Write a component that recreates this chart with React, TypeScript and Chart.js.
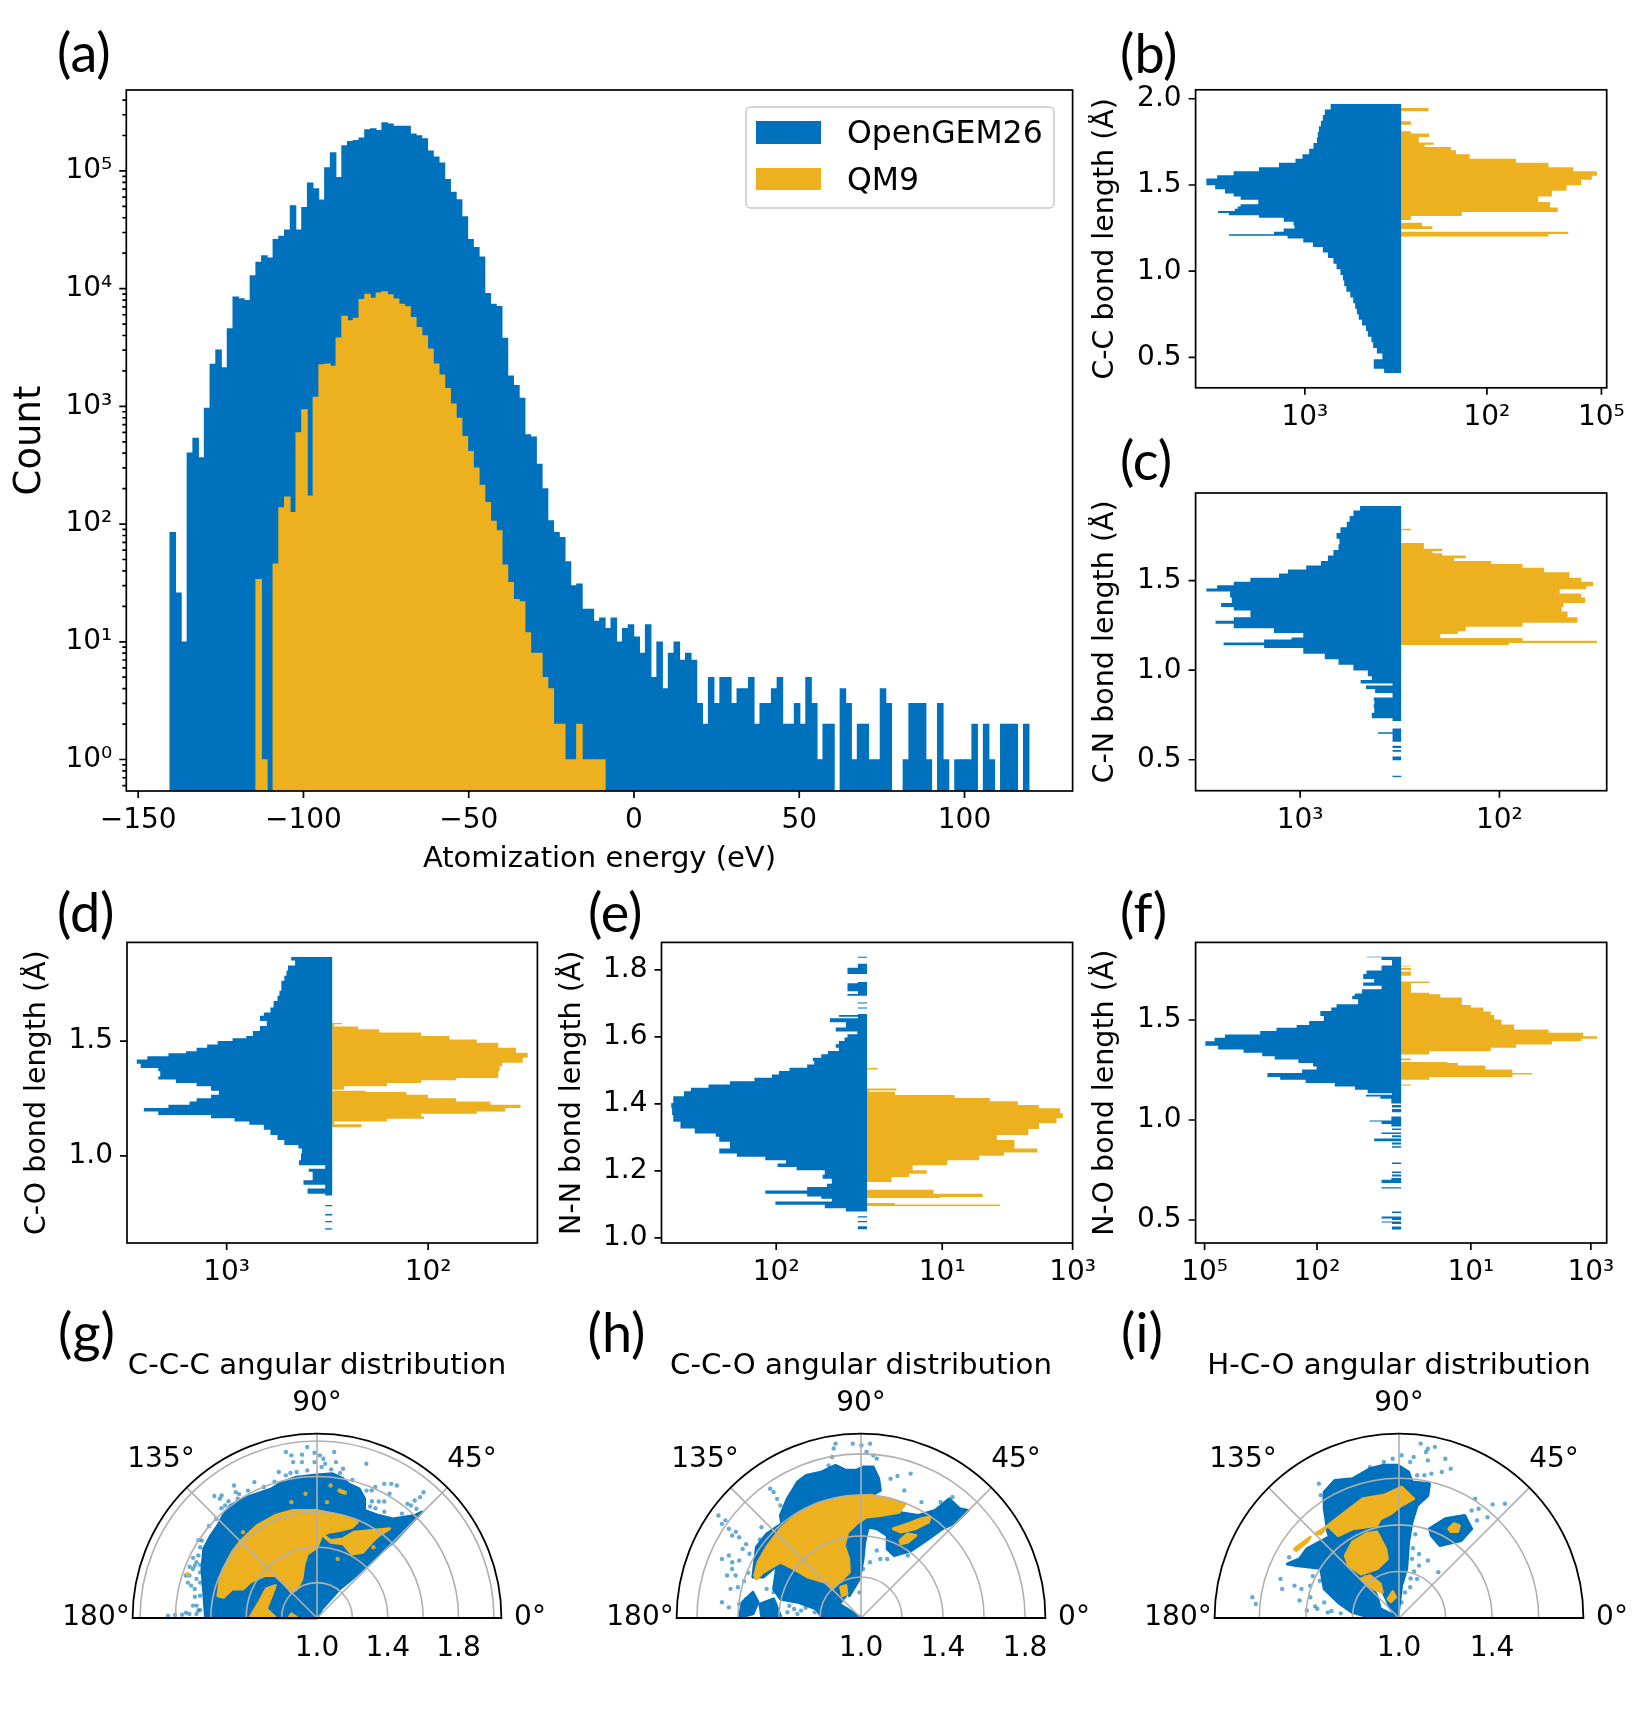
import React, { useEffect, useRef } from "react";
import { Chart, registerables } from "chart.js";

Chart.register(...registerables);

const BLUE = "#0072BD";
const YELLOW = "#EDB120";
const DOT_BLUE = "rgba(0, 114, 189, 0.6)";
const DOT_YELLOW = "rgba(237, 177, 32, 0.85)";
const FONT = "'DejaVu Sans'";

// (a) atomization energy histogram, 150 bins
const firstBin = -139.55;
const binWidth = 1.733;
const openGemCounts = [
  85, 26, 10, 403, 537, 367, 968, 2290, 3020, 2130, 4570, 8510, 8230, 7940, 12900, 16800, 19100, 18300, 26300, 27900,
  31600, 50700, 31600, 49000, 79400, 70800, 56900, 107000, 143000, 88100, 164000, 178000, 182000, 191000, 224000,
  229000, 221000, 257000, 251000, 240000, 240000, 240000, 207000, 200000, 188000, 148000, 132000, 117000, 85000, 66000,
  57000, 41000, 26300, 22400, 18600, 9120, 7410, 7080, 3800, 1820, 1510, 1175, 575, 550, 324, 200, 107, 85, 77, 48, 30,
  31, 19, 19, 15, 16, 13, 16, 10, 13, 14, 11, 8, 14, 5, 10, 4, 8, 10, 7, 8, 7, 3, 2, 5, 3, 5, 5, 3, 4, 4, 5, 2, 3, 3,
  4, 5, 2, 2, 3, 2, 5, 3, 1, 2, 2, 0, 4, 3, 1, 2, 2, 1, 1, 4, 3, 0, 0, 1, 3, 3, 3, 1, 0, 3, 1, 0, 1, 1, 1, 2, 0, 2, 1,
  0, 2, 2, 2, 0, 2,
];
const qm9Counts = [
  0, 0, 0, 0, 0, 0, 0, 0, 0, 0, 0, 0, 0, 0, 0, 34, 1, 0, 46, 138, 170, 126, 600, 940, 174, 1200, 2260, 2300, 2200, 3830,
  5860, 5350, 5630, 8100, 9000, 8300, 9230, 9450, 8900, 8200, 7400, 7050, 5700, 4700, 3990, 3080, 2300, 1850, 1420,
  1050, 795, 556, 415, 300, 214, 153, 106, 88, 45, 32, 23, 22, 12, 8, 8, 5, 4, 2, 2, 1, 1, 2, 1, 1, 1, 1,
];
const energyTicks = [-150, -100, -50, 0, 50, 100];

// Bond length panels: [bond length, width relative to the side's peak]
const ccBlue = [
  [1.971, 0], [1.938, 0.36], [1.906, 0.39], [1.873, 0.4], [1.841, 0.41], [1.808, 0.42], [1.775, 0.426], [1.743, 0.43],
  [1.71, 0.448], [1.678, 0.47], [1.652, 0.504], [1.629, 0.54], [1.603, 0.624], [1.58, 0.726], [1.557, 0.856],
  [1.538, 0.94], [1.515, 0.995], [1.499, 0.995], [1.476, 0.95], [1.45, 0.9], [1.434, 0.856], [1.414, 0.82],
  [1.401, 0.73], [1.388, 0.73], [1.375, 0.82], [1.362, 0.835], [1.349, 0.85], [1.337, 0.935], [1.325, 0.88],
  [1.31, 0.726], [1.287, 0.6], [1.265, 0.55], [1.248, 0.545], [1.229, 0.6], [1.215, 0.65], [1.205, 0.88], [1.19, 0.58],
  [1.167, 0.5], [1.141, 0.45], [1.108, 0.4], [1.076, 0.374], [1.043, 0.346], [1.011, 0.33], [0.978, 0.31],
  [0.946, 0.297], [0.913, 0.291], [0.881, 0.28], [0.848, 0.26], [0.815, 0.245], [0.783, 0.235], [0.75, 0.226],
  [0.718, 0.217], [0.685, 0.2], [0.653, 0.18], [0.62, 0.17], [0.588, 0.152], [0.555, 0.143], [0.523, 0.124],
  [0.49, 0.096], [0.458, 0.14], [0.435, 0.14], [0.409, 0.087],
];
const ccYellow = [
  [1.948, 0], [1.928, 0.14], [1.87, 0], [1.85, 0.05], [1.811, 0], [1.798, 0.05], [1.779, 0.144], [1.759, 0.09],
  [1.746, 0.09], [1.733, 0.166], [1.72, 0.12], [1.701, 0.255], [1.678, 0.28], [1.652, 0.35], [1.629, 0.587],
  [1.603, 0.753], [1.58, 0.88], [1.554, 1.0], [1.531, 0.974], [1.499, 0.92], [1.466, 0.845], [1.434, 0.77],
  [1.401, 0.7], [1.369, 0.76], [1.343, 0.8], [1.32, 0.31], [1.297, 0.05], [1.281, 0], [1.261, 0.107], [1.245, 0.16],
  [1.229, 0], [1.216, 0.854], [1.2, 0.753],
];
const cnBlue = [
  [1.918, 0], [1.892, 0.21], [1.861, 0.244], [1.829, 0.263], [1.798, 0.278], [1.766, 0.31], [1.735, 0.33], [1.704, 0.315],
  [1.672, 0.32], [1.641, 0.346], [1.61, 0.374], [1.585, 0.41], [1.563, 0.485], [1.541, 0.578], [1.516, 0.624],
  [1.494, 0.77], [1.475, 0.855], [1.456, 0.94], [1.44, 0.995], [1.406, 0.874], [1.375, 0.865], [1.353, 0.92],
  [1.334, 0.855], [1.312, 0.77], [1.296, 0.77], [1.277, 0.855], [1.259, 0.948], [1.234, 0.855], [1.208, 0.65],
  [1.183, 0.5], [1.171, 0.56], [1.155, 0.7], [1.139, 0.907], [1.124, 0.7], [1.092, 0.5], [1.061, 0.39], [1.03, 0.32],
  [0.998, 0.244], [0.967, 0.17], [0.945, 0.15], [0.926, 0.207], [0.914, 0.044], [0.895, 0.18], [0.873, 0.133],
  [0.848, 0.044], [0.832, 0.14], [0.81, 0.137], [0.788, 0.14], [0.763, 0.137], [0.732, 0.15], [0.716, 0.044],
  [0.675, 0], [0.654, 0.044], [0.645, 0.118], [0.638, 0.044], [0.6, 0.044], [0.578, 0], [0.565, 0.044], [0.555, 0],
  [0.545, 0.044], [0.518, 0], [0.497, 0.044], [0.41, 0], [0.402, 0.044],
];
const cnYellow = [
  [1.792, 0], [1.782, 0.05], [1.71, 0], [1.697, 0.116], [1.679, 0.116], [1.666, 0.21], [1.654, 0.16], [1.641, 0.21],
  [1.625, 0.33], [1.61, 0.27], [1.594, 0.46], [1.572, 0.62], [1.547, 0.73], [1.516, 0.86], [1.494, 0.92], [1.469, 0.98],
  [1.453, 0.945], [1.428, 0.81], [1.406, 0.92], [1.375, 0.94], [1.353, 0.83], [1.328, 0.82], [1.296, 0.85],
  [1.265, 0.9], [1.243, 0.62], [1.218, 0.33], [1.202, 0.29], [1.18, 0.2], [1.165, 0.62], [1.152, 1.0], [1.139, 0.55],
];
const coBlue = [
  [1.868, 0], [1.851, 0.21], [1.829, 0.19], [1.807, 0.226], [1.785, 0.234], [1.763, 0.245], [1.741, 0.26], [1.719, 0.26],
  [1.697, 0.27], [1.675, 0.28], [1.646, 0.3], [1.624, 0.316], [1.61, 0.35], [1.588, 0.37], [1.566, 0.335], [1.544, 0.37],
  [1.522, 0.406], [1.512, 0.44], [1.5, 0.51], [1.485, 0.586], [1.471, 0.64], [1.456, 0.694], [1.447, 0.748],
  [1.434, 0.838], [1.42, 0.946], [1.401, 1.0], [1.383, 0.98], [1.368, 0.89], [1.346, 0.88], [1.332, 0.89], [1.317, 0.8],
  [1.303, 0.694], [1.284, 0.62], [1.266, 0.58], [1.251, 0.62], [1.237, 0.694], [1.222, 0.73], [1.208, 0.838],
  [1.193, 0.964], [1.178, 0.89], [1.164, 0.62], [1.149, 0.5], [1.135, 0.424], [1.113, 0.35], [1.091, 0.316],
  [1.069, 0.28], [1.047, 0.245], [1.032, 0.173], [1.01, 0.155], [0.981, 0.16], [0.959, 0.17], [0.944, 0.036], [0.93, 0.12],
  [0.908, 0.1], [0.893, 0.1], [0.874, 0.147], [0.857, 0.036], [0.835, 0.126], [0.827, 0.036], [0.786, 0], [0.78, 0.036],
  [0.746, 0], [0.74, 0.036], [0.716, 0], [0.71, 0.036], [0.684, 0], [0.678, 0.036],
];
const coYellow = [
  [1.58, 0], [1.573, 0.05], [1.564, 0.01], [1.551, 0.133], [1.537, 0.24], [1.522, 0.455], [1.507, 0.6], [1.493, 0.74],
  [1.471, 0.85], [1.449, 0.94], [1.427, 1.0], [1.405, 0.975], [1.39, 0.87], [1.368, 0.857], [1.339, 0.85],
  [1.329, 0.634], [1.317, 0.455], [1.303, 0.28], [1.288, 0.06], [1.284, 0], [1.278, 0.17], [1.266, 0.38], [1.251, 0.49],
  [1.237, 0.634], [1.222, 0.81], [1.208, 0.964], [1.193, 0.885], [1.183, 0.74], [1.171, 0.455], [1.161, 0.47],
  [1.149, 0.28], [1.137, 0.01], [1.13, 0.15], [1.123, 0.15],
];
const nnBlue = [
  [1.84, 0], [1.836, 0.047], [1.818, 0], [1.814, 0.047], [1.806, 0.047], [1.796, 0.1], [1.788, 0.1], [1.784, 0],
  [1.764, 0], [1.76, 0.047], [1.746, 0.1], [1.736, 0.1], [1.728, 0.047], [1.723, 0.1], [1.703, 0], [1.7, 0.047], [1.688, 0],
  [1.685, 0.047], [1.668, 0], [1.665, 0.047], [1.66, 0.144], [1.656, 0.047], [1.644, 0.19], [1.628, 0.108], [1.616, 0.16],
  [1.608, 0.05], [1.598, 0.1], [1.588, 0.115], [1.578, 0.144], [1.568, 0.16], [1.558, 0.144], [1.548, 0.2], [1.538, 0.234],
  [1.528, 0.277], [1.518, 0.27], [1.508, 0.306], [1.498, 0.396], [1.488, 0.45], [1.478, 0.486], [1.468, 0.575], [1.458, 0.7],
  [1.448, 0.81], [1.438, 0.9], [1.423, 0.935], [1.403, 0.99], [1.387, 1.0], [1.367, 0.996], [1.347, 0.99], [1.327, 0.953],
  [1.312, 0.88], [1.302, 0.773], [1.287, 0.755], [1.267, 0.7], [1.252, 0.755], [1.242, 0.665], [1.232, 0.52], [1.222, 0.414],
  [1.212, 0.457], [1.202, 0.36], [1.189, 0.216], [1.177, 0.227], [1.162, 0.18], [1.152, 0.205], [1.142, 0.306], [1.132, 0.52],
  [1.124, 0.306], [1.117, 0.234], [1.109, 0.18], [1.099, 0.468], [1.089, 0.216], [1.082, 0.108], [1.079, 0.108], [1.065, 0],
  [1.061, 0.047], [1.051, 0], [1.047, 0.047], [1.035, 0], [1.025, 0.047],
];
const nnYellow = [
  [1.508, 0], [1.503, 0.054], [1.446, 0], [1.44, 0.15], [1.436, 0.01], [1.427, 0.143], [1.418, 0.448], [1.408, 0.627],
  [1.397, 0.77], [1.387, 0.878], [1.372, 0.986], [1.357, 1.0], [1.342, 0.968], [1.325, 0.878], [1.307, 0.824],
  [1.292, 0.663], [1.267, 0.753], [1.255, 0.87], [1.245, 0.7], [1.232, 0.573], [1.217, 0.41], [1.202, 0.233],
  [1.192, 0.305], [1.182, 0.215], [1.17, 0.125], [1.167, 0.125], [1.144, 0], [1.132, 0.34], [1.122, 0.59], [1.119, 0.376],
  [1.104, 0], [1.1, 0.143], [1.095, 0.68],
];
const noBlue = [
  [1.817, 0], [1.814, 0.175], [1.8, 0.1], [1.789, 0.047], [1.772, 0.047], [1.76, 0.1], [1.747, 0.1], [1.73, 0.177],
  [1.705, 0.194], [1.688, 0.138], [1.671, 0.194], [1.654, 0.1], [1.633, 0.2], [1.621, 0.237], [1.604, 0.25], [1.579, 0.22],
  [1.562, 0.33], [1.545, 0.357], [1.52, 0.413], [1.495, 0.395], [1.475, 0.47], [1.461, 0.534], [1.445, 0.637], [1.428, 0.72],
  [1.411, 0.9], [1.394, 0.953], [1.371, 1.0], [1.352, 0.935], [1.336, 0.805], [1.319, 0.71], [1.302, 0.646], [1.285, 0.525],
  [1.268, 0.45], [1.252, 0.432], [1.235, 0.506], [1.215, 0.683], [1.201, 0.618], [1.185, 0.488], [1.168, 0.339],
  [1.151, 0.236], [1.134, 0.171], [1.126, 0.047], [1.117, 0.18], [1.106, 0.106], [1.092, 0.05], [1.082, 0.05], [1.075, 0],
  [1.062, 0.047], [1.055, 0], [1.039, 0.047], [1.018, 0], [0.998, 0.05], [0.992, 0.162], [0.98, 0.1], [0.968, 0.05],
  [0.958, 0], [0.95, 0.047], [0.938, 0], [0.93, 0.1], [0.924, 0], [0.914, 0.047], [0.908, 0], [0.894, 0.138], [0.888, 0],
  [0.878, 0.047], [0.869, 0], [0.861, 0.047], [0.854, 0], [0.787, 0], [0.78, 0.047], [0.743, 0], [0.735, 0.047], [0.727, 0],
  [0.718, 0.047], [0.71, 0], [0.701, 0.05], [0.685, 0.1], [0.678, 0], [0.664, 0], [0.658, 0.1], [0.651, 0], [0.542, 0],
  [0.535, 0.047], [0.517, 0], [0.507, 0.1], [0.5, 0.047], [0.493, 0], [0.487, 0.1], [0.48, 0.047], [0.468, 0], [0.451, 0.047],
];
const noYellow = [
  [1.773, 0], [1.767, 0.05], [1.76, 0], [1.75, 0.05], [1.743, 0], [1.721, 0.05], [1.693, 0], [1.685, 0.144], [1.666, 0.05],
  [1.646, 0.05], [1.636, 0.05], [1.629, 0.144], [1.612, 0.2], [1.592, 0.31], [1.575, 0.31], [1.562, 0.356], [1.542, 0.42],
  [1.525, 0.458], [1.503, 0.476], [1.478, 0.513], [1.453, 0.577], [1.436, 0.753], [1.419, 0.93], [1.406, 1.0], [1.394, 0.92],
  [1.378, 0.77], [1.361, 0.587], [1.344, 0.458], [1.327, 0.144], [1.307, 0], [1.299, 0.05], [1.29, 0], [1.285, 0.236],
  [1.273, 0.29], [1.252, 0.43], [1.235, 0.568], [1.227, 0.67], [1.215, 0.568], [1.201, 0.144], [1.178, 0], [1.171, 0.05],
];

// Angular panels: bond coordinates relative to r = 1.0, x = (r-1)cos(theta), y = (r-1)sin(theta)
const cccBlueArea = [
  [-0.63, 0.004], [-0.64, 0.145], [-0.65, 0.277], [-0.64, 0.39], [-0.6, 0.466], [-0.56, 0.523], [-0.53, 0.579], [-0.489, 0.636],
  [-0.418, 0.674], [-0.337, 0.702], [-0.257, 0.73], [-0.196, 0.768], [-0.115, 0.796], [-0.014, 0.806], [0.087, 0.815],
  [0.147, 0.787], [0.178, 0.758], [0.238, 0.73], [0.269, 0.674], [0.269, 0.608], [0.349, 0.579], [0.43, 0.56], [0.552, 0.579],
  [0.592, 0.598], [0.511, 0.513], [0.43, 0.428], [0.349, 0.362], [0.269, 0.287], [0.198, 0.221], [0.127, 0.164], [0.077, 0.108],
  [0.026, 0.051], [0, 0],
];
const cccYellowAreas = [
  [
    [-0.56, 0.126], [-0.549, 0.202], [-0.529, 0.277], [-0.479, 0.372], [-0.428, 0.438], [-0.337, 0.523], [-0.236, 0.579],
    [-0.135, 0.608], [-0.004, 0.608], [0.087, 0.589], [0.188, 0.56], [0.228, 0.542], [0.198, 0.513], [0.127, 0.494],
    [0.067, 0.485], [0.026, 0.466], [0, 0.4], [-0.055, 0.362], [-0.075, 0.296], [-0.085, 0.221], [-0.115, 0.164],
    [-0.145, 0.145], [-0.186, 0.202], [-0.236, 0.24], [-0.297, 0.24], [-0.378, 0.202], [-0.418, 0.164], [-0.479, 0.164],
    [-0.529, 0.117],
  ],
  [
    [0.036, 0.466], [0.077, 0.438], [0.147, 0.447], [0.208, 0.485], [0.309, 0.494], [0.41, 0.504], [0.349, 0.466],
    [0.309, 0.428], [0.259, 0.372], [0.198, 0.362], [0.147, 0.419], [0.077, 0.428],
  ],
  [[-0.287, 0.164], [-0.236, 0.183], [-0.257, 0.126], [-0.287, 0.051], [-0.236, 0.004], [-0.378, 0.004], [-0.327, 0.089]],
  [[-0.145, 0.023], [-0.115, 0.004], [-0.156, 0.004]],
];
const cccYellowDots = [
  [0.077, 0.749], [0.127, 0.721], [0.158, 0.708], [-0.065, 0.702], [0.057, 0.655], [0.319, 0.4], [0.117, 0.334], [-0.731, 0.249],
  [-0.145, 0.655], [-0.418, 0.485], [0.137, 0.715], [0.147, 0.712],
];
const cccBlueDots = [
  [-0.176, 0.938], [-0.145, 0.919], [-0.085, 0.923], [-0.055, 0.966], [-0.014, 0.934], [0.016, 0.919], [0.036, 0.9], [0.097, 0.938],
  [-0.135, 0.881], [-0.085, 0.881], [-0.014, 0.881], [0.046, 0.872], [0.107, 0.881], [0.147, 0.843], [0.279, 0.872], [-0.216, 0.825],
  [-0.176, 0.806], [-0.115, 0.825], [-0.055, 0.834], [0.026, 0.853], [-0.469, 0.749], [-0.459, 0.711], [-0.448, 0.674], [-0.354, 0.768],
  [-0.58, 0.689], [-0.549, 0.674], [-0.519, 0.636], [-0.539, 0.692], [0.42, 0.758], [0.38, 0.758], [0.451, 0.749], [0.329, 0.74],
  [0.309, 0.721], [0.41, 0.702], [0.349, 0.658], [0.38, 0.658], [0.511, 0.645], [0.602, 0.711], [0.582, 0.683], [0.552, 0.664],
  [0.562, 0.617], [0.531, 0.636], [-0.651, 0.438], [-0.63, 0.391], [-0.671, 0.353], [-0.691, 0.296], [-0.701, 0.277], [-0.661, 0.258],
  [-0.721, 0.24], [-0.681, 0.221], [-0.711, 0.183], [-0.741, 0.24], [-0.691, 0.164], [-0.661, 0.126], [-0.701, 0.07], [-0.64, 0.183],
  [-0.681, 0.315], [-0.62, 0.334], [-0.6, 0.428], [-0.58, 0.457], [-0.842, 0.013], [-0.802, 0.017], [-0.762, 0.019], [-0.721, 0.023],
  [-0.671, 0.042], [-0.681, 0.023], [0.248, 0.296], [0.208, 0.277], [0.168, 0.258], [0.127, 0.202], [0.087, 0.155], [0.046, 0.108],
  [0.036, 0.07], [0.329, 0.391], [-0.66, 0.4], [-0.67, 0.44], [-0.7, 0.34], [-0.72, 0.29], [-0.73, 0.2], [-0.69, 0.12],
  [-0.66, 0.2], [-0.66, 0.3], [-0.68, 0.07], [-0.66, 0.045], [-0.74, 0.03], [-0.61, 0.52], [-0.57, 0.56], [-0.54, 0.62],
  [-0.5, 0.66], [-0.44, 0.7], [-0.39, 0.72], [-0.3, 0.74], [-0.24, 0.77], [-0.15, 0.82], [0.08, 0.84], [0.13, 0.82],
  [0.2, 0.78], [0.28, 0.72], [0.31, 0.66], [0.33, 0.62], [0.48, 0.59], [0.38, 0.6], [0.3, 0.63],
];

const ccoBlueAreas = [
  [
    [-0.393, 0.5], [-0.359, 0.581], [-0.309, 0.663], [-0.267, 0.695], [-0.191, 0.712], [-0.124, 0.744], [-0.074, 0.72], [-0.023, 0.72],
    [0.01, 0.736], [0.06, 0.736], [0.086, 0.679], [0.094, 0.622], [-0.007, 0.565], [-0.191, 0.5], [-0.292, 0.45], [-0.376, 0.4],
  ],
  [
    [-0.074, 0.402], [0.01, 0.484], [0.077, 0.513], [0.178, 0.516], [0.279, 0.5], [0.362, 0.524], [0.43, 0.581], [0.48, 0.533],
    [0.522, 0.524], [0.463, 0.467], [0.396, 0.435], [0.329, 0.386], [0.245, 0.329], [0.161, 0.305], [0.128, 0.337], [0.128, 0.402],
    [0.077, 0.435], [0.035, 0.443], [0.018, 0.37], [0.01, 0.288], [-0.007, 0.191], [-0.032, 0.15], [-0.057, 0.109], [-0.124, 0.191],
    [-0.091, 0.305],
  ],
  [
    [-0.409, 0.26], [-0.292, 0.3], [-0.124, 0.28], [-0.04, 0.174], [-0.074, 0.109], [-0.107, 0.068], [-0.003, 0.003], [-0.191, 0.003],
    [-0.216, 0.044], [-0.309, 0.077], [-0.393, 0.093], [-0.426, 0.142],
  ],
  [[-0.51, 0.345], [-0.46, 0.41], [-0.376, 0.467], [-0.3, 0.4], [-0.393, 0.27], [-0.477, 0.2], [-0.527, 0.2]],
  [[-0.594, 0.003], [-0.577, 0.077], [-0.527, 0.125], [-0.502, 0.077], [-0.527, 0.02]],
  [[-0.493, 0.068], [-0.426, 0.093], [-0.393, 0.011], [-0.485, 0.011]],
];
const ccoYellowAreas = [
  [
    [-0.518, 0.207], [-0.502, 0.272], [-0.46, 0.345], [-0.393, 0.435], [-0.309, 0.508], [-0.191, 0.565], [-0.074, 0.59], [0.044, 0.598],
    [0.144, 0.581], [0.215, 0.557], [0.186, 0.516], [0.094, 0.5], [0.027, 0.492], [-0.023, 0.459], [-0.065, 0.419], [-0.082, 0.353],
    [-0.06, 0.288], [-0.057, 0.223], [-0.107, 0.174], [-0.141, 0.142], [-0.174, 0.174], [-0.258, 0.199], [-0.326, 0.239], [-0.393, 0.272],
    [-0.477, 0.223], [-0.51, 0.191],
  ],
  [[0.158, 0.435], [0.228, 0.459], [0.295, 0.484], [0.337, 0.492], [0.329, 0.467], [0.262, 0.435], [0.195, 0.419]],
  [[0.191, 0.378], [0.228, 0.41], [0.267, 0.402], [0.228, 0.37], [0.195, 0.362]],
  [[-0.099, 0.15], [-0.074, 0.158], [-0.069, 0.117], [-0.091, 0.109]],
];
const ccoBlueDots = [
  [-0.124, 0.85], [-0.133, 0.826], [-0.141, 0.785], [-0.04, 0.85], [0.002, 0.842], [0.044, 0.85], [0.077, 0.777], [0.027, 0.809],
  [0.06, 0.793], [-0.158, 0.744], [0.144, 0.679], [0.178, 0.692], [0.242, 0.704], [0.211, 0.622], [0.295, 0.565], [0.388, 0.565],
  [0.446, 0.59], [-0.426, 0.614], [-0.409, 0.581], [-0.443, 0.63], [-0.393, 0.549], [-0.695, 0.5], [-0.661, 0.476], [-0.678, 0.459],
  [-0.644, 0.435], [-0.628, 0.402], [-0.594, 0.394], [-0.577, 0.337], [-0.544, 0.313], [-0.493, 0.383], [-0.485, 0.443], [-0.678, 0.288],
  [-0.644, 0.305], [-0.628, 0.272], [-0.594, 0.28], [-0.653, 0.207], [-0.628, 0.239], [-0.611, 0.207], [-0.636, 0.142], [-0.678, 0.077],
  [-0.644, 0.052], [-0.594, 0.068], [-0.56, 0.093], [-0.544, 0.028], [-0.46, 0.142], [-0.426, 0.125], [-0.359, 0.028], [-0.292, 0.036],
  [-0.225, 0.028], [-0.326, 0.044], [0.094, 0.288], [0.128, 0.288], [0.077, 0.329], [0.01, 0.239], [0.044, 0.272], [-0.007, 0.125],
  [0.228, 0.305], [-0.6, 0.15], [-0.57, 0.18], [-0.55, 0.22], [-0.61, 0.42], [-0.56, 0.36], [-0.35, 0.06], [-0.27, 0.05],
  [-0.45, 0.05], [-0.42, 0.02], [-0.31, 0.02],
];

const hcoBlueAreas = [
  [
    [-0.321, 0.541], [-0.276, 0.591], [-0.2, 0.598], [-0.125, 0.641], [-0.065, 0.656], [-0.005, 0.656], [0.041, 0.627], [0.056, 0.584],
    [0.131, 0.577], [0.124, 0.527], [0.078, 0.484], [0.056, 0.412], [0.041, 0.326], [0.033, 0.211], [0.011, 0.139], [-0.005, 0.003],
    [-0.035, 0.039], [-0.095, 0.168], [-0.163, 0.197], [-0.231, 0.24], [-0.28, 0.3], [-0.306, 0.37], [-0.321, 0.469],
  ],
  [
    [-0.427, 0.254], [-0.396, 0.297], [-0.306, 0.345], [-0.2, 0.33], [-0.2, 0.254], [-0.321, 0.211], [-0.442, 0.225], [-0.479, 0.232],
  ],
  [
    [-0.336, 0.211], [-0.231, 0.24], [-0.14, 0.168], [-0.095, 0.096], [-0.08, 0.039], [-0.005, 0.003], [-0.125, 0.003], [-0.2, 0.024],
    [-0.261, 0.067], [-0.321, 0.125],
  ],
  [[0.139, 0.354], [0.131, 0.383], [0.199, 0.426], [0.282, 0.44], [0.312, 0.383], [0.267, 0.333], [0.176, 0.311]],
];
const hcoYellowAreas = [
  [
    [-0.306, 0.397], [-0.231, 0.455], [-0.155, 0.512], [-0.065, 0.527], [0.011, 0.562], [0.063, 0.512], [0.011, 0.484], [-0.035, 0.448],
    [-0.08, 0.426], [-0.095, 0.397], [-0.2, 0.383], [-0.261, 0.354],
  ],
  [
    [-0.231, 0.268], [-0.2, 0.326], [-0.14, 0.362], [-0.095, 0.369], [-0.057, 0.297], [-0.05, 0.254], [-0.095, 0.211], [-0.163, 0.189],
    [-0.216, 0.225],
  ],
  [[-0.163, 0.168], [-0.125, 0.182], [-0.08, 0.146], [-0.072, 0.11], [-0.11, 0.125]],
  [[-0.047, 0.082], [-0.027, 0.113], [-0.015, 0.089], [-0.035, 0.07]],
  [[-0.449, 0.297], [-0.381, 0.347], [-0.396, 0.326], [-0.442, 0.29]],
  [[-0.359, 0.362], [-0.313, 0.39], [-0.336, 0.362]],
  [[0.214, 0.383], [0.237, 0.405], [0.259, 0.397], [0.252, 0.372], [0.222, 0.372]],
];
const hcoBlueDots = [
  [0.093, 0.749], [0.124, 0.727], [0.154, 0.735], [0.116, 0.713], [0.063, 0.692], [0.048, 0.67], [0.011, 0.699], [-0.027, 0.684],
  [-0.065, 0.67], [-0.125, 0.648], [0.222, 0.641], [0.184, 0.627], [0.139, 0.62], [0.109, 0.613], [0.078, 0.613], [0.199, 0.684],
  [0.124, 0.677], [0.455, 0.491], [0.402, 0.488], [0.342, 0.469], [0.312, 0.462], [0.38, 0.433], [0.335, 0.419], [0.327, 0.512],
  [-0.344, 0.577], [-0.321, 0.512], [-0.336, 0.527], [-0.472, 0.261], [-0.509, 0.168], [-0.502, 0.125], [-0.449, 0.139], [-0.419, 0.125],
  [-0.63, 0.089], [-0.615, 0.06], [-0.381, 0.089], [-0.427, 0.075], [-0.396, 0.032], [-0.351, 0.039], [-0.306, 0.024], [-0.381, 0.139],
  [-0.321, 0.067], [0.086, 0.275], [0.124, 0.247], [0.086, 0.225], [0.056, 0.254], [0.048, 0.132], [0.026, 0.11], [0.011, 0.067],
  [0.169, 0.197], [0.078, 0.168], [-0.34, 0.16], [-0.37, 0.18], [-0.29, 0.03], [-0.22, 0.05], [-0.25, 0.02], [-0.36, 0.05],
  [0.06, 0.3], [0.07, 0.36], [0.065, 0.2], [0.05, 0.17],
];

const LETTER_LEFT = [57, 1120, 1120, 57, 588, 1120, 58, 587.5, 1121];
const LETTER_MID = [52, 53, 460, 912, 912, 912, 1332, 1332, 1332];
const LETTERS = ["(a)", "(b)", "(c)", "(d)", "(e)", "(f)", "(g)", "(h)", "(i)"];

const isPowerOfTen = (v: number) => Math.abs(Math.log10(v) - Math.round(Math.log10(v))) < 1e-6;
const isWholeMantissa = (v: number) => {
  const m = v / Math.pow(10, Math.floor(Math.log10(v) + 1e-9));
  return Math.abs(m - Math.round(m)) < 1e-6;
};

// spines and tick marks, matplotlib style (minor ticks are shorter)
const framePlugin = {
  id: "frame",
  afterDatasetsDraw(chart: any) {
    const { ctx, chartArea: a, scales } = chart;
    ctx.save();
    ctx.strokeStyle = "#000";
    ctx.lineWidth = 1.7;
    ctx.strokeRect(a.left, a.top, a.right - a.left, a.bottom - a.top);
    ctx.beginPath();
    for (const t of scales.x.ticks) {
      const px = scales.x.getPixelForValue(t.value);
      ctx.moveTo(px, a.bottom);
      ctx.lineTo(px, a.bottom + 7);
    }
    for (const t of scales.y.ticks) {
      const isLog = scales.y.type === "logarithmic";
      if (isLog && !isWholeMantissa(t.value)) continue;
      const py = scales.y.getPixelForValue(t.value);
      ctx.moveTo(a.left, py);
      ctx.lineTo(a.left - (isLog && !isPowerOfTen(t.value) ? 4 : 7), py);
    }
    ctx.stroke();
    ctx.restore();
  },
};

// closed regions of the dense clouds, through the chart's scales
const areaPlugin = {
  id: "areas",
  beforeDatasetDraw(chart: any, args: any) {
    const ds = chart.data.datasets[args.index];
    if (!ds.isArea) return;
    const { ctx } = chart;
    ctx.save();
    ctx.fillStyle = ds.areaColor;
    ctx.strokeStyle = ds.areaColor;
    ctx.lineWidth = 3;
    ctx.lineJoin = "round";
    ctx.beginPath();
    args.meta.data.forEach((p: any, i: number) => (i ? ctx.lineTo(p.x, p.y) : ctx.moveTo(p.x, p.y)));
    ctx.closePath();
    ctx.fill();
    ctx.stroke();
    ctx.restore();
  },
};

// half polar frame: rings, spokes and labels
const polarPlugin = {
  id: "polarFrame",
  afterDatasetsDraw(chart: any, _args: any, opts: any) {
    const { ctx, scales } = chart;
    const cx = scales.x.getPixelForValue(0);
    const cy = scales.y.getPixelForValue(0);
    const radius = (v: number) => scales.x.getPixelForValue(v) - cx;
    const R = radius(opts.rMax);
    ctx.save();
    ctx.strokeStyle = "#b0b0b0";
    ctx.lineWidth = 1.6;
    for (const r of opts.rings) {
      ctx.beginPath();
      ctx.arc(cx, cy, radius(r), Math.PI, 2 * Math.PI);
      ctx.stroke();
    }
    for (const deg of [45, 90, 135]) {
      const a = (deg * Math.PI) / 180;
      ctx.beginPath();
      ctx.moveTo(cx, cy);
      ctx.lineTo(cx + R * Math.cos(a), cy - R * Math.sin(a));
      ctx.stroke();
    }
    ctx.strokeStyle = "#000";
    ctx.lineWidth = 1.8;
    ctx.beginPath();
    ctx.arc(cx, cy, R, Math.PI, 2 * Math.PI);
    ctx.closePath();
    ctx.stroke();
    ctx.fillStyle = "#000";
    ctx.textAlign = "center";
    ctx.textBaseline = "middle";
    ctx.font = `28px ${FONT}`;
    ctx.fillText("90°", cx, cy - 214);
    ctx.fillText("135°", cx - 156, cy - 158.5);
    ctx.fillText("45°", cx + 155, cy - 158.5);
    ctx.fillText("180°", cx - 221, cy);
    ctx.fillText("0°", cx + 213, cy);
    opts.radialTicks.forEach((r: number, i: number) => {
      ctx.fillText(opts.radialLabels[i], cx + radius(r), cy + 31);
    });
    ctx.font = `29.2px ${FONT}`;
    ctx.fillText(opts.title, cx, cy - 252);
    ctx.restore();
  },
};

const toPoints = (rows: number[][]) => rows.map(([x, y]) => ({ x, y }));

function areaDatasets(rows: number[][][], color: string) {
  return rows.map((r) => ({ data: toPoints(r), isArea: true, areaColor: color, pointRadius: 0 }));
}

function dotDataset(rows: number[][], color: string) {
  return { data: toPoints(rows), pointRadius: 2.2, pointBackgroundColor: color, pointBorderWidth: 0 };
}

function polarConfig(title: string, rMax: number, rings: number[], radialTicks: number[], radialLabels: string[], yellow: any[], blue: any[], R: any) {
  return {
    type: "scatter",
    data: { datasets: [...yellow, ...blue] },
    plugins: [areaPlugin, polarPlugin],
    options: {
      animation: false,
      responsive: false,
      layout: { padding: R },
      scales: {
        x: { display: false, min: -rMax, max: rMax },
        y: { display: false, min: 0, max: rMax },
      },
      plugins: {
        legend: { display: false },
        tooltip: { enabled: false },
        polarFrame: { title, rMax, rings, radialTicks, radialLabels },
      },
    },
  };
}

function histConfig(h: any, box: any, plot: any) {
  const series = (rows: number[][], color: string, side: number) => ({
    data: rows.map(([y, x]) => ({ x: side * x, y })),
    stepped: true,
    borderWidth: 0,
    borderColor: "transparent",
    backgroundColor: color,
    fill: "origin",
    pointRadius: 0,
  });
  return {
    type: "line",
    data: { datasets: [series(h.blue, BLUE, -1), series(h.yellow, YELLOW, 1)] },
    plugins: [framePlugin],
    options: {
      indexAxis: "y",
      animation: false,
      responsive: false,
      layout: { padding: { top: plot.top - box.top, right: box.left + box.width - plot.right, bottom: 0, left: 0 } },
      scales: {
        x: {
          type: "linear",
          min: -1.05,
          max: 1.05,
          grid: { display: false, drawTicks: false },
          border: { display: false },
          afterBuildTicks: (s: any) => (s.ticks = h.xTicks.map((value: number) => ({ value }))),
          afterFit: (s: any) => {
            s.height = box.top + box.height - plot.bottom;
            s.paddingLeft = s.paddingRight = 0;
          },
          ticks: {
            autoSkip: false,
            maxRotation: 0,
            minRotation: 0,
            padding: 13,
            color: "#000",
            font: { family: FONT, size: 28 },
            callback: (v: number) => h.xLabels[h.xTicks.indexOf(v)],
          },
        },
        y: {
          type: "linear",
          min: h.yMin,
          max: h.yMax,
          grid: { display: false, drawTicks: false },
          border: { display: false },
          afterBuildTicks: (s: any) => (s.ticks = h.yTicks.map((value: number) => ({ value }))),
          afterFit: (s: any) => {
            s.width = plot.left - box.left;
            s.paddingTop = s.paddingBottom = 0;
          },
          ticks: {
            autoSkip: false,
            padding: 14,
            color: "#000",
            font: { family: FONT, size: 28 },
            callback: (v: number) => v.toFixed(1),
          },
          title: { display: true, text: h.label, padding: 0, color: "#000", font: { family: FONT, size: 28.5 } },
        },
      },
      plugins: { legend: { display: false }, tooltip: { enabled: false } },
    },
  };
}

function energyConfig(box: any, plot: any) {
  const bars = (counts: number[], color: string) => ({
    data: counts.map((c, i) => ({ x: firstBin + i * binWidth, y: c > 0 ? c : null })),
    backgroundColor: color,
    barPercentage: 1,
    categoryPercentage: 1,
    barThickness: 5.9,
    grouped: false,
  });
  return {
    type: "bar",
    data: { datasets: [bars(qm9Counts, YELLOW), bars(openGemCounts, BLUE)] },
    plugins: [framePlugin],
    options: {
      animation: false,
      responsive: false,
      layout: { padding: { top: plot.top - box.top, right: box.left + box.width - plot.right, bottom: 0, left: 0 } },
      scales: {
        x: {
          type: "linear",
          offset: false,
          min: -153.6,
          max: 132.7,
          grid: { display: false, drawTicks: false },
          border: { display: false },
          afterBuildTicks: (s: any) => (s.ticks = energyTicks.map((value) => ({ value }))),
          afterFit: (s: any) => {
            s.height = box.top + box.height - plot.bottom;
            s.paddingLeft = s.paddingRight = 0;
          },
          ticks: {
            autoSkip: false,
            maxRotation: 0,
            padding: 13,
            color: "#000",
            font: { family: FONT, size: 28 },
            callback: (v: number) => (v < 0 ? `\u2212${-v}` : `${v}`),
          },
          title: { display: true, text: "Atomization energy (eV)", padding: 0, color: "#000", font: { family: FONT, size: 29 } },
        },
        y: {
          type: "logarithmic",
          min: 0.54,
          max: 487000,
          grid: { display: false, drawTicks: false },
          border: { display: false },
          afterFit: (s: any) => {
            s.width = plot.left - box.left;
            s.paddingTop = s.paddingBottom = 0;
          },
          ticks: {
            autoSkip: false,
            padding: 14,
            color: "#000",
            font: { family: FONT, size: 28 },
            callback: (v: number) => (isPowerOfTen(v) ? `10${"⁰¹²³⁴⁵"[Math.round(Math.log10(v))]}` : ""),
          },
          title: { display: true, text: "Count", padding: 0, color: "#000", font: { family: FONT, size: 37 } },
        },
      },
      plugins: { legend: { display: false }, tooltip: { enabled: false } },
    },
  };
}

const ChartBox: React.FC<{ box: any; make: () => any }> = ({ box, make }) => {
  const ref = useRef<HTMLCanvasElement>(null);
  useEffect(() => {
    if (!ref.current) return;
    const chart = new Chart(ref.current, make());
    return () => chart.destroy();
  }, []);
  return (
    <canvas
      ref={ref}
      width={box.width}
      height={box.height}
      style={{ position: "absolute", left: box.left, top: box.top, width: box.width, height: box.height }}
    />
  );
};

const histPanels = [
  {
    label: "C-C bond length (Å)", blue: ccBlue, yellow: ccYellow, yMin: 0.324, yMax: 2.052, yTicks: [0.5, 1.0, 1.5, 2.0],
    xTicks: [-0.492, 0.438, 1.023], xLabels: ["10³", "10²", "10⁵"],
    box: { left: 1088, top: 80, width: 560, height: 370 }, plot: { left: 1195.6, right: 1606.7, top: 89.8, bottom: 387.8 },
  },
  {
    label: "C-N bond length (Å)", blue: cnBlue, yellow: cnYellow, yMin: 0.327, yMax: 1.99, yTicks: [0.5, 1.0, 1.5],
    xTicks: [-0.516, 0.502], xLabels: ["10³", "10²"],
    box: { left: 1088, top: 483, width: 560, height: 370 }, plot: { left: 1195.6, right: 1606.7, top: 493, bottom: 790.7 },
  },
  {
    label: "C-O bond length (Å)", blue: coBlue, yellow: coYellow, yMin: 0.62, yMax: 1.93, yTicks: [1.0, 1.5],
    xTicks: [-0.54, 0.491], xLabels: ["10³", "10²"],
    box: { left: 20, top: 932, width: 540, height: 370 }, plot: { left: 127, right: 537.4, top: 942.4, bottom: 1243 },
  },
  {
    label: "N-N bond length (Å)", blue: nnBlue, yellow: nnYellow, yMin: 0.985, yMax: 1.882, yTicks: [1.0, 1.2, 1.4, 1.6, 1.8],
    xTicks: [-0.464, 0.384, 1.05], xLabels: ["10²", "10¹", "10³"],
    box: { left: 555, top: 932, width: 550, height: 370 }, plot: { left: 661.5, right: 1072.6, top: 942.4, bottom: 1243 },
  },
  {
    label: "N-O bond length (Å)", blue: noBlue, yellow: noYellow, yMin: 0.385, yMax: 1.888, yTicks: [0.5, 1.0, 1.5],
    xTicks: [-1.004, -0.43, 0.356, 0.969], xLabels: ["10⁵", "10²", "10¹", "10³"],
    box: { left: 1088, top: 932, width: 560, height: 370 }, plot: { left: 1195.6, right: 1606.7, top: 942.4, bottom: 1243 },
  },
];

function polarBox(cx: number, cy: number) {
  return { left: cx - 262, top: cy - 280, width: 502, height: 340 };
}

function polarPadding(cx: number, cy: number) {
  const b = polarBox(cx, cy);
  const R = 184.4;
  return { left: cx - R - b.left, right: b.left + b.width - cx - R, top: cy - R - b.top, bottom: b.top + b.height - cy };
}

const polarPanels = [
  {
    cx: 316.8, cy: 1618,
    make: (cx: number, cy: number) =>
      polarConfig(
        "C-C-C angular distribution", 1.042, [0.2, 0.4, 0.6, 0.8, 1.0], [0, 0.4, 0.8], ["1.0", "1.4", "1.8"],
        [dotDataset(cccYellowDots, DOT_YELLOW), ...areaDatasets(cccYellowAreas, YELLOW)],
        [dotDataset(cccBlueDots, DOT_BLUE), ...areaDatasets([cccBlueArea], BLUE)],
        polarPadding(cx, cy),
      ),
  },
  {
    cx: 861, cy: 1618,
    make: (cx: number, cy: number) =>
      polarConfig(
        "C-C-O angular distribution", 0.899, [0.2, 0.4, 0.6, 0.8], [0, 0.4, 0.8], ["1.0", "1.4", "1.8"],
        areaDatasets(ccoYellowAreas, YELLOW),
        [dotDataset(ccoBlueDots, DOT_BLUE), ...areaDatasets(ccoBlueAreas, BLUE)],
        polarPadding(cx, cy),
      ),
  },
  {
    cx: 1399.2, cy: 1618,
    make: (cx: number, cy: number) =>
      polarConfig(
        "H-C-O angular distribution", 0.792, [0.2, 0.4, 0.6], [0, 0.4], ["1.0", "1.4"],
        areaDatasets(hcoYellowAreas, YELLOW),
        [dotDataset(hcoBlueDots, DOT_BLUE), ...areaDatasets(hcoBlueAreas, BLUE)],
        polarPadding(cx, cy),
      ),
  },
];

const energyBox = { left: 8, top: 80, width: 1083, height: 797 };
const energyPlot = { left: 126.3, right: 1072.6, top: 90, bottom: 791 };

const App: React.FC = () => {
  return (
    <div style={{ position: "absolute", left: 0, top: 0, width: 1650, height: 1720, background: "#fff", overflow: "hidden" }}>
      <ChartBox box={energyBox} make={() => energyConfig(energyBox, energyPlot)} />
      {histPanels.map((h) => (
        <ChartBox key={h.label} box={h.box} make={() => histConfig(h, h.box, h.plot)} />
      ))}
      {polarPanels.map((p) => (
        <ChartBox key={p.cx} box={polarBox(p.cx, p.cy)} make={() => p.make(p.cx, p.cy)} />
      ))}
      {LETTERS.map((l, i) => (
        <div
          key={l}
          style={{
            position: "absolute",
            left: LETTER_LEFT[i],
            top: LETTER_MID[i] - 32,
            height: 64,
            lineHeight: "64px",
            fontFamily: "Lato",
            fontSize: 54,
            color: "#000",
          }}
        >
          {l}
        </div>
      ))}
      {/* Legend of panel (a) */}
      <div
        style={{
          position: "absolute",
          left: 745,
          top: 105.5,
          width: 310,
          height: 103,
          boxSizing: "border-box",
          border: "2px solid #d5d5d5",
          borderRadius: 6,
          background: "rgba(255,255,255,0.8)",
        }}
      />
      {[
        { name: "OpenGEM26", color: BLUE, top: 121 },
        { name: "QM9", color: YELLOW, top: 167.5 },
      ].map((e) => (
        <React.Fragment key={e.name}>
          <div style={{ position: "absolute", left: 756, top: e.top, width: 65, height: 22.5, background: e.color }} />
          <div
            style={{
              position: "absolute",
              left: 847,
              top: e.top - 9,
              height: 40,
              lineHeight: "40px",
              fontFamily: FONT,
              fontSize: 31.5,
              color: "#000",
            }}
          >
            {e.name}
          </div>
        </React.Fragment>
      ))}
    </div>
  );
};

export default App;
